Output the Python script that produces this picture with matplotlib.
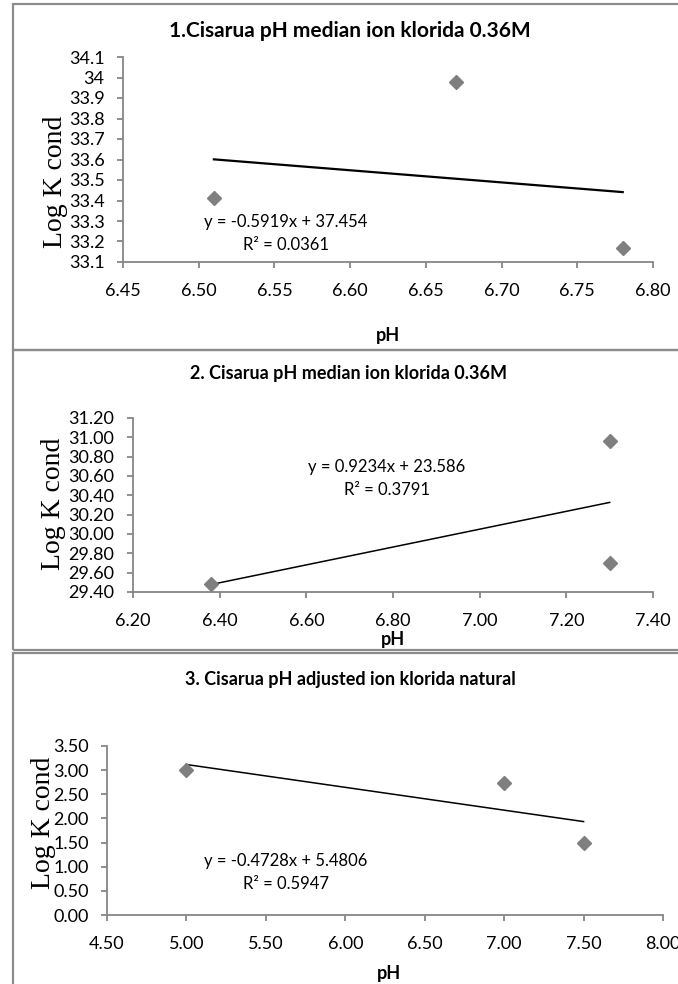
import matplotlib
matplotlib.use("Agg")
import matplotlib.pyplot as plt
import numpy as np
from matplotlib.patches import Rectangle

# panel titles
titles = [
    "1.Cisarua pH median ion klorida 0.36M",
    "2. Cisarua pH median ion klorida 0.36M",
    "3. Cisarua pH adjusted ion klorida natural",
]

# data
ph_1 = [6.51, 6.67, 6.78]
logk_1 = [33.41, 33.98, 33.17]
ph_2 = [6.38, 7.30, 7.30]
logk_2 = [29.48, 30.96, 29.70]
ph_3 = [5.00, 7.00, 7.50]
logk_3 = [3.00, 2.73, 1.49]

# trendline (slope, intercept, r2) as printed
trend_1 = (-0.5919, 37.454, 0.0361)
trend_2 = (0.9234, 23.586, 0.3791)
trend_3 = (-0.4728, 5.4806, 0.5947)

# axis ticks
xticks_1 = [6.45, 6.50, 6.55, 6.60, 6.65, 6.70, 6.75, 6.80]
yticks_1 = [33.1, 33.2, 33.3, 33.4, 33.5, 33.6, 33.7, 33.8, 33.9, 34.0, 34.1]
ytick_labels_1 = ["33.1", "33.2", "33.3", "33.4", "33.5", "33.6", "33.7",
                  "33.8", "33.9", "34", "34.1"]
xticks_2 = [6.20, 6.40, 6.60, 6.80, 7.00, 7.20, 7.40]
yticks_2 = [29.40, 29.60, 29.80, 30.00, 30.20, 30.40, 30.60, 30.80, 31.00, 31.20]
xticks_3 = [4.50, 5.00, 5.50, 6.00, 6.50, 7.00, 7.50, 8.00]
yticks_3 = [0.00, 0.50, 1.00, 1.50, 2.00, 2.50, 3.00, 3.50]

W, H = 678, 984
SANS = ["Lato", "DejaVu Sans"]
SERIF = ["Liberation Serif", "DejaVu Serif"]
GREY = "#868686"
MARK = "#7f7f7f"

plt.rcParams["font.family"] = SANS

fig = plt.figure(figsize=(W / 100, H / 100), dpi=100)


def px(x, y):
    return x / W, 1 - y / H


def frame(x0, y0, x1, y1):
    fig.patches.append(
        Rectangle(px(x0, y1), (x1 - x0) / W, (y1 - y0) / H,
                  transform=fig.transFigure, fill=False,
                  edgecolor="#8c8c8c", linewidth=1.6, zorder=0)
    )


def make_axes(left, top, right, bottom):
    l, t = px(left, top)
    r, b = px(right, bottom)
    ax = fig.add_axes([l, b, r - l, t - b])
    for s in ("top", "right"):
        ax.spines[s].set_visible(False)
    for s in ("left", "bottom"):
        ax.spines[s].set_color(GREY)
        ax.spines[s].set_linewidth(1.3)
    ax.tick_params(direction="out", length=4.3, width=1.3, color=GREY,
                   labelsize=13)
    ax.tick_params(axis="x", pad=11)
    ax.tick_params(axis="y", pad=9)
    return ax


def panel(ax, ph, logk, trend, xticks, yticks, lw):
    slope, icpt, _ = trend
    xs = np.array([min(ph), max(ph)])
    ax.plot(xs, slope * xs + icpt, color="black", linewidth=lw, zorder=2)
    ax.plot(ph, logk, linestyle="none", marker="D", markersize=7.5,
            color=MARK, zorder=3)
    ax.set_xlim(xticks[0], xticks[-1])
    ax.set_ylim(yticks[0], yticks[-1])
    ax.set_xticks(xticks)
    ax.set_yticks(yticks)
    ax.set_xticklabels([f"{v:.2f}" for v in xticks])


def eq_text(ax, trend, x, y):
    slope, icpt, r2 = trend
    sign = "-" if slope < 0 else ""
    fig.text(*px(x, y), f"y = {sign}{abs(slope):g}x + {icpt:g}",
             ha="center", va="center", fontsize=12)
    fig.text(*px(x, y + 23), f"R² = {r2:g}", ha="center", va="center",
             fontsize=12)


# frames
frame(13, 4, 700, 350)
frame(13, 350, 700, 650)
frame(13, 653, 700, 1000)

# panel 1
ax1 = make_axes(123, 57, 653, 262)
panel(ax1, ph_1, logk_1, trend_1, xticks_1, yticks_1, 1.6)
ax1.set_yticklabels(ytick_labels_1)
fig.text(*px(350, 31), titles[0], ha="center", va="center",
         fontsize=15, fontweight="bold")
fig.text(*px(388, 335), "pH", ha="center", va="center",
         fontsize=13, fontweight="bold")
fig.text(*px(55, 182), "Log K cond", ha="center", va="center",
         rotation=90, fontsize=20, family=SERIF)
eq_text(ax1, trend_1, 286, 222)

# panel 2
ax2 = make_axes(133, 418, 653, 592)
panel(ax2, ph_2, logk_2, trend_2, xticks_2, yticks_2, 1.1)
ax2.set_yticklabels([f"{v:.2f}" for v in yticks_2])
fig.text(*px(349, 373), titles[1], ha="center", va="center",
         fontsize=13, fontweight="bold")
fig.text(*px(393, 639), "pH", ha="center", va="center",
         fontsize=13, fontweight="bold")
fig.text(*px(53, 504), "Log K cond", ha="center", va="center",
         rotation=90, fontsize=20, family=SERIF)
eq_text(ax2, trend_2, 387, 467)

# panel 3
ax3 = make_axes(107, 746, 663, 915)
panel(ax3, ph_3, logk_3, trend_3, xticks_3, yticks_3, 1.1)
ax3.set_yticklabels([f"{v:.2f}" for v in yticks_3])
fig.text(*px(350, 679), titles[2], ha="center", va="center",
         fontsize=13, fontweight="bold")
fig.text(*px(389, 974), "pH", ha="center", va="center",
         fontsize=13, fontweight="bold")
fig.text(*px(43, 823), "Log K cond", ha="center", va="center",
         rotation=90, fontsize=20, family=SERIF)
eq_text(ax3, trend_3, 286, 861)

fig.savefig("out.png", dpi=100)
